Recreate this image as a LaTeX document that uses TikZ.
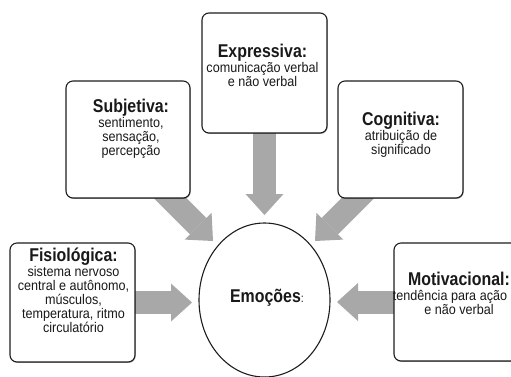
\documentclass[tikz,border=0pt]{standalone}
\usepackage{fontspec}
\usetikzlibrary{shapes.geometric,arrows.meta,calc,shadows}
\newfontfamily\ttlfont{Liberation Sans}[FakeStretch=0.86]
\newfontfamily\bdyfont{Liberation Sans}[FakeStretch=0.9]
\definecolor{arrgray}{RGB}{168,168,168}
\definecolor{edge}{RGB}{30,30,30}
\definecolor{ink}{RGB}{25,25,25}
\pgfdeclarelayer{bg}
\pgfsetlayers{bg,main}
\newcommand\boxtext[2]{\vtop{\hsize=200pt\parindent=0pt\parskip=0pt\lineskiplimit=-100pt\lineskip=0pt\centering
  {\ttlfont\bfseries\fontsize{18.5}{14}\selectfont #1\par}\vskip1.5pt
  {\bdyfont\fontsize{14}{14}\selectfont #2\par}}}
\begin{document}
\begin{tikzpicture}[x=1pt,y=-1pt,
  box/.style={draw=edge, line width=1.1pt, rounded corners=7pt, fill=white,
    drop shadow={shadow xshift=0.7pt,shadow yshift=-0.9pt,opacity=0.35,fill=black}},
  flow/.style={draw=arrgray, line width=23pt, -{Triangle[length=21pt,width=38pt,line width=0pt]}},
  lbl/.style={anchor=base, inner sep=0pt, text=ink}]
\useasboundingbox (0,0) rectangle (511,376);
% boxes
\node[box, minimum width=125pt, minimum height=119pt] (fis) at (72.5,302.5) {};
\node[box, minimum width=124pt, minimum height=117pt] (sub) at (128,139.5) {};
\node[box, minimum width=125pt, minimum height=120pt] (expr) at (264.5,73) {};
\node[box, minimum width=125pt, minimum height=117pt] (cog) at (400.5,139.5) {};
\node[box, minimum width=127pt, minimum height=118pt] (mot) at (457.5,302) {};
\node[draw=edge, line width=1.1pt, fill=white, ellipse, minimum width=131pt, minimum height=154pt, inner sep=0pt] (emo) at (264.5,300) {};
% arrow ends
\coordinate (tExp) at (264.5,215);
\coordinate (tSub) at (213,241);
\coordinate (sSub) at ($(sub.south east)+(-47,-27)$);
\coordinate (tCog) at (315,241);
\coordinate (sCog) at ($(cog.south west)+(47,-27)$);
\coordinate (tFis) at (192,302.5);
\coordinate (tMot) at (337,302);
\begin{pgfonlayer}{bg}
\fill[white] (0,0) rectangle (511,376);
\draw[flow] (expr.center) -- (tExp);
\draw[flow] (sSub) -- (tSub);
\draw[flow] (sCog) -- (tCog);
\draw[flow] (fis.center) -- (tFis);
\draw[flow] (mot.center) -- (tMot);
\end{pgfonlayer}
% texts
\node[lbl] (fisT) at (73.5,261) {\boxtext{Fisiológica:}{sistema nervoso\\central e autônomo,\\músculos,\\temperatura, ritmo\\circulatório}};
\node[lbl] (subT) at (131,112) {\boxtext{Subjetiva:}{sentimento,\\sensação,\\percepção}};
\node[lbl] (expT) at (262.5,57) {\boxtext{Expressiva:}{comunicação verbal\\e não verbal}};
\node[lbl] (cogT) at (401,125) {\boxtext{Cognitiva:}{atribuição de\\significado}};
\node[lbl] (motT) at (459,285) {\boxtext{Motivacional:}{\hspace*{-18pt}tendência para ação\\e não verbal}};
\node[lbl] (emoT) at (267,302) {{\ttlfont\bfseries\fontsize{18.5}{18.5}\selectfont Emoções}{\bdyfont\fontsize{12}{12}\selectfont:}};
\end{tikzpicture}
\end{document}
